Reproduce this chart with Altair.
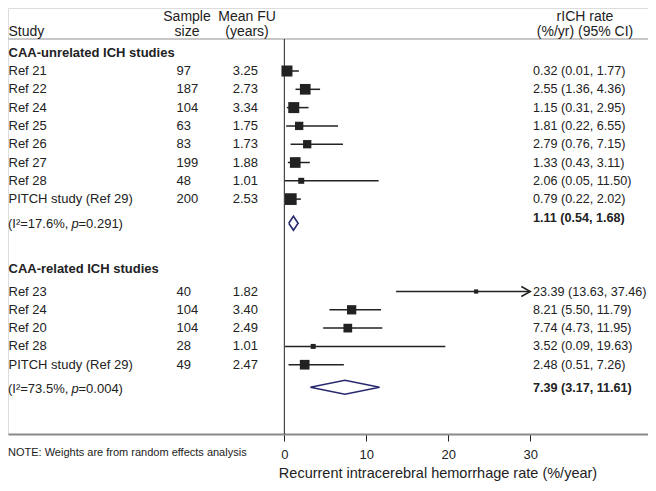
import altair as alt
import pandas as pd

FONT = "Liberation Sans"
TXT = "#222222"
NAVY = "#28296e"

# ---------------- data ----------------
group_titles = ["CAA-unrelated ICH studies", "CAA-related ICH studies"]

g1_study = ["Ref 21", "Ref 22", "Ref 24", "Ref 25", "Ref 26", "Ref 27", "Ref 28", "PITCH study (Ref 29)"]
g1_n = [97, 187, 104, 63, 83, 199, 48, 200]
g1_fu = [3.25, 2.73, 3.34, 1.75, 1.73, 1.88, 1.01, 2.53]
g1_rate = [0.32, 2.55, 1.15, 1.81, 2.79, 1.33, 2.06, 0.79]
g1_lo = [0.01, 1.36, 0.31, 0.22, 0.76, 0.43, 0.05, 0.22]
g1_hi = [1.77, 4.36, 2.95, 6.55, 7.15, 3.11, 11.50, 2.02]
g1_weight = [121, 114, 121, 69, 69, 114, 36, 137]

g2_study = ["Ref 23", "Ref 24", "Ref 20", "Ref 28", "PITCH study (Ref 29)"]
g2_n = [40, 104, 104, 28, 49]
g2_fu = [1.82, 3.40, 2.49, 1.01, 2.47]
g2_rate = [23.39, 8.21, 7.74, 3.52, 2.48]
g2_lo = [13.63, 5.50, 4.73, 0.09, 0.51]
g2_hi = [37.46, 11.79, 11.95, 19.63, 7.26]
g2_weight = [18, 86, 76, 25, 94]

pooled_est = [1.11, 7.39]
pooled_lo = [0.54, 3.17]
pooled_hi = [1.68, 11.61]
pooled_i2 = ["17.6", "73.5"]
pooled_p = ["0.291", "0.004"]

x_ticks = [0, 10, 20, 30]
X_MAX = 30

# ---------------- layout (row positions) ----------------
g1_rows = [1 + i for i in range(len(g1_study))]
g2_rows = [13.05 + i for i in range(len(g2_study))]
header_rows = [0, 11.82]
pooled_rows = [9.32, 18.28]
pooled_text_rows = [9.05, 18.3]
het_rows = [9.38, 18.4]

studies = pd.DataFrame({
    "study": g1_study + g2_study,
    "n": g1_n + g2_n,
    "fu": g1_fu + g2_fu,
    "rate": g1_rate + g2_rate,
    "lo": g1_lo + g2_lo,
    "hi": g1_hi + g2_hi,
    "weight": g1_weight + g2_weight,
    "row": g1_rows + g2_rows,
})
studies["hi_draw"] = studies["hi"].clip(upper=X_MAX)
studies["label"] = [f"{r:.2f} ({l:.2f}, {h:.2f})" for r, l, h in zip(studies.rate, studies.lo, studies.hi)]
arrows = studies[studies["hi"] > X_MAX]

headers = pd.DataFrame({"title": group_titles, "row": header_rows})

pooled = pd.DataFrame({
    "est": pooled_est, "lo": pooled_lo, "hi": pooled_hi,
    "row": pooled_rows, "trow": pooled_text_rows, "hrow": het_rows,
    "het1": [f"(I\u00b2={v}%, " for v in pooled_i2],
    "het2": [f"={v})" for v in pooled_p],
})
pooled["label"] = [f"{e:.2f} ({l:.2f}, {h:.2f})" for e, l, h in zip(pooled.est, pooled.lo, pooled.hi)]

HALF = 0.38
dpts = []
for gi, r in pooled.iterrows():
    pts = [(r.lo, r.row), (r.est, r.row - HALF), (r.hi, r.row), (r.est, r.row + HALF), (r.lo, r.row)]
    for k, (xx, yy) in enumerate(pts):
        dpts.append({"g": gi, "k": k, "x": xx, "y": yy})
diamonds = pd.DataFrame(dpts)

# ---------------- scales ----------------
W, H = 640, 426
TOP = 31
xs = alt.Scale(domain=[-33.70, 44.35], nice=False, zero=False)
ys = alt.Scale(domain=[-2.443, 20.836], nice=False, zero=False, reverse=True)
xaxis = alt.Axis(
    values=x_ticks, grid=False, title="Recurrent intracerebral hemorrhage rate (%/year)",
    domainColor="#8a8a8a", domainWidth=2, tickColor=TXT, tickSize=7, tickWidth=1,
    labelFont=FONT, labelFontSize=13, labelColor=TXT, labelBaseline="alphabetic", labelPadding=17,
    titleFont=FONT, titleFontSize=14.5, titleFontWeight="normal", titleColor=TXT,
    titleX=429.5, titleY=43, titleAlign="center", titleBaseline="alphabetic",
)


def X(f):
    return alt.X(f, type="quantitative", scale=xs, axis=xaxis)


def Y(f):
    return alt.Y(f, type="quantitative", scale=ys, axis=None)


one = pd.DataFrame({"x": [0]})

top_line = alt.Chart(one).mark_rule(color="#c8c8c8", strokeWidth=2).encode(
    x=alt.value(0), x2=alt.value(W), y=alt.value(TOP))
zero_line = alt.Chart(one).mark_rule(color=TXT, strokeWidth=1).encode(
    x=X("x"), y=alt.value(TOP), y2=alt.value(H))

ci = alt.Chart(studies).mark_rule(color=TXT, strokeWidth=1.5).encode(
    x=X("lo"), x2="hi_draw", y=Y("row"))
boxes = alt.Chart(studies).mark_square(color=TXT, opacity=1).encode(
    x=X("rate"), y=Y("row"),
    size=alt.Size("weight:Q", scale=alt.Scale(domain=[0, 150], range=[0, 150]), legend=None))
arrow = alt.Chart(arrows).mark_point(
    shape="M-1.8,-1L0,0L-1.8,1", filled=False, color=TXT, strokeWidth=1.5, size=100, opacity=1
).encode(x=X("hi_draw"), y=Y("row"))
diamond = alt.Chart(diamonds).mark_line(color=NAVY, strokeWidth=1.6).encode(
    x=X("x"), y=Y("y"), detail="g:N", order="k:Q")

base_txt = dict(font=FONT, fontSize=13, color=TXT, baseline="middle")
right_txt = dict(font=FONT, fontSize=12.6, color=TXT, baseline="middle")
RCOL = 525
study_txt = alt.Chart(studies).mark_text(align="left", **base_txt).encode(
    x=alt.value(0.5), y=Y("row"), text="study:N")
n_txt = alt.Chart(studies).mark_text(align="left", **base_txt).encode(
    x=alt.value(168.5), y=Y("row"), text="n:Q")
fu_txt = alt.Chart(studies).mark_text(align="right", **base_txt).encode(
    x=alt.value(250), y=Y("row"), text=alt.Text("fu:Q", format=".2f"))
rate_txt = alt.Chart(studies).mark_text(align="left", **right_txt).encode(
    x=alt.value(RCOL), y=Y("row"), text="label:N")
head_txt = alt.Chart(headers).mark_text(align="left", fontWeight="bold", **base_txt).encode(
    x=alt.value(0.5), y=Y("row"), text="title:N")
het1 = alt.Chart(pooled).mark_text(align="left", **base_txt).encode(
    x=alt.value(0), y=Y("hrow"), text="het1:N")
hetp = alt.Chart(pooled).mark_text(align="left", fontStyle="italic", **base_txt).encode(
    x=alt.value(63.5), y=Y("hrow"), text=alt.value("p"))
het2 = alt.Chart(pooled).mark_text(align="left", **base_txt).encode(
    x=alt.value(70.5), y=Y("hrow"), text="het2:N")
pool_txt = alt.Chart(pooled).mark_text(align="left", fontWeight="bold", **right_txt).encode(
    x=alt.value(RCOL), y=Y("trow"), text="label:N")

col_heads = pd.DataFrame({
    "t": ["Study", "Sample", "size", "Mean FU", "(years)", "rICH rate", "(%/yr) (95% CI)"],
    "x": [0.5, 179, 179, 239, 239, 577, 577],
    "y": [27.5, 12.5, 27.5, 12.5, 27.5, 12.5, 27.5],
    "a": ["left", "center", "center", "center", "center", "center", "center"],
})
colhead_layers = []
for _, r in col_heads.iterrows():
    colhead_layers.append(
        alt.Chart(one).mark_text(font=FONT, fontSize=14, color=TXT, align=r.a, baseline="alphabetic").encode(
            x=alt.value(float(r.x)), y=alt.value(float(r.y)), text=alt.value(r.t)))

note = alt.Chart(one).mark_text(font=FONT, fontSize=11, color=TXT, align="left", baseline="middle").encode(
    x=alt.value(0), y=alt.value(445), text=alt.value("NOTE: Weights are from random effects analysis"))

chart = alt.layer(
    top_line, zero_line, ci, boxes, arrow, diamond,
    study_txt, n_txt, fu_txt, rate_txt, head_txt, het1, hetp, het2, pool_txt, note,
    *colhead_layers,
).properties(
    width=W, height=H,
    autosize=alt.AutoSizeParams(type="none"),
    padding={"left": 0, "right": 0, "top": 0, "bottom": 49},
).configure_view(stroke=None).configure(background="white")

chart.save("out.html", embed_options={"renderer": "svg", "actions": False})
